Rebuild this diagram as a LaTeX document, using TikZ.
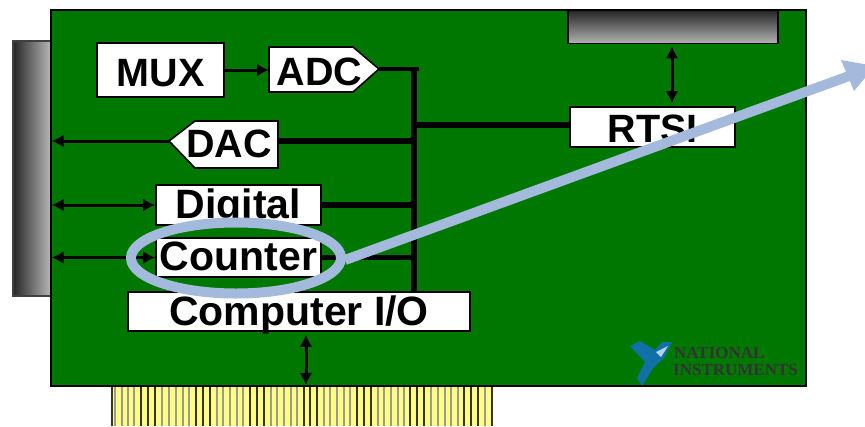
\documentclass[tikz,border=0pt]{standalone}
\usepackage{fontspec}
\setmainfont{Liberation Sans}
\newfontfamily\logofont{Liberation Serif}
\definecolor{boardgreen}{HTML}{007800}
\definecolor{callout}{HTML}{A4BADC}
\definecolor{pinyellow}{HTML}{FFFF80}
\definecolor{logoblue}{HTML}{1070A8}
\usetikzlibrary{arrows.meta,calc}
\newcommand{\boxlabel}[2]{\smash{\raisebox{#1bp}{#2}}}
\tikzset{
  x=1bp,y=-1bp,
  every node/.style={text=black},
  caps/.style={font=\bfseries\fontsize{39.5bp}{41bp}\selectfont},
  lower/.style={font=\bfseries\fontsize{41bp}{41bp}\selectfont},
  blockbox/.style={draw=black,line width=1.6bp,fill=white,inner sep=0pt},
  bus/.style={draw=black,line width=5.5bp},
  sig/.style={draw=black,line width=3bp,-{Latex[length=12bp,width=13bp]}},
  sigboth/.style={draw=black,line width=3bp,{Latex[length=12bp,width=13bp]}-{Latex[length=12bp,width=13bp]}},
  portpin/.style={draw=black!80,line width=1.3bp},
  softpin/.style={draw=black!40,line width=1.1bp},
  logotext/.style={font=\logofont\fontsize{17bp}{17bp}\selectfont\bfseries,text=black!80,inner sep=0pt,anchor=base west},
}
\begin{document}
\begin{tikzpicture}
\useasboundingbox (0,0) rectangle (865,426);
\clip (0,0) rectangle (865,426);
% edge connector
\fill[pinyellow] (111,386) rectangle (492,426);
\foreach \px in {115,122,128,134,162,169,176,183,189,217,223,230,237,243,271,277,284,291,297,324,330,337,344,350,378,384,391,398,404,431,438,445,451,458,485}{
  \draw[softpin] (\px,386) -- (\px,426);
}
\foreach \px in {112,141,148,155,196,203,210,250,257,264,304,310,317,357,364,371,410,417,424,464,471,478,492}{
  \draw[portpin] (\px,386) -- (\px,426);
}
% side and top connectors
\node[draw=black!75,line width=1.4bp,minimum width=38bp,minimum height=255bp,inner sep=0pt,left color=black!85,right color=black!28] (sideport) at (32,168.5) {};
% board
\node[draw=black,line width=1.8bp,fill=boardgreen,minimum width=755bp,minimum height=376bp,inner sep=0pt] (board) at (428.5,198) {};
\node[draw=black,line width=1.6bp,minimum width=210bp,minimum height=33bp,inner sep=0pt,top color=black!85,bottom color=black!30] (topport) at (673,27) {};
% bus
\coordinate (bustop) at (414,69);
\coordinate (busbottom) at (414,292);
\coordinate (rtsitie) at (414,125);
\draw[bus] ($(bustop)+(0,-2)$) -- (busbottom);
% blocks
\node[blockbox,caps,minimum width=127bp,minimum height=54bp] (mux) at (160.5,70) {\boxlabel{-16}{MUX}};
\draw[blockbox] (269,47) coordinate (adcw) -- (353,47) -- (379,69) coordinate (adctip) -- (353,92) -- (269,92) -- cycle;
\node[caps,inner sep=0pt,anchor=base] (adc) at (319.5,85) {ADC};
\draw[blockbox] (169,141) coordinate (dactip) -- (195,121) -- (278,121) coordinate (dacne) -- (278,168) -- (195,168) -- cycle;
\node[caps,inner sep=0pt,anchor=base] (dac) at (229,157) {DAC};
\node[blockbox,lower,minimum width=165bp,minimum height=40bp] (digital) at (238.5,205) {\boxlabel{-13}{Digital}};
\node[blockbox,lower,minimum width=165bp,minimum height=39bp] (counter) at (238.5,257.5) {\boxlabel{-12.5}{Counter}};
\node[blockbox,lower,minimum width=342bp,minimum height=39bp] (cio) at (299,311.5) {\boxlabel{-13.5}{Computer I/O}};
\node[blockbox,caps,minimum width=165bp,minimum height=40bp] (rtsi) at (652.5,127) {\boxlabel{-15}{RTSI}};
% connectors
\draw[sig] (mux.east) -- (adcw |- mux.east);
\draw[draw=black,line width=4.5bp] (adctip) -- ($(bustop)+(5,0)$);
\draw[bus] (rtsitie) -- (rtsitie -| rtsi.west);
\draw[bus] (bustop |- dactip) -- (dacne |- dactip);
\draw[bus] (bustop |- digital.east) -- (digital.east);
\draw[bus] (bustop |- counter.east) -- (counter.east);
\draw[sig] (dactip) -- (sideport.east |- dactip);
\draw[sigboth] (sideport.east |- digital.west) -- (digital.west);
\draw[sigboth] (sideport.east |- counter.west) -- (counter.west);
\coordinate (rtsitap) at (672,0);
\coordinate (ciotap) at (306,0);
\draw[sigboth] ($(rtsitap |- topport.south)+(0,2)$) -- ($(rtsitap |- rtsi.north)+(0,-3)$);
\draw[sigboth] ($(ciotap |- cio.south)+(0,3)$) -- ($(ciotap |- board.south)+(0,-2)$);
% logo
\fill[logoblue] (630,346) -- (640,341) -- (655,350) -- (662,342) -- (672,342) -- (664,358) -- (653,368) -- (642,386) -- (637,378) -- (645,362) -- cycle;
\fill[white!70!logoblue] (656,352) -- (668,346) -- (661,357) -- cycle;
\node[logotext] (logoa) at (674,358) {NATIONAL};
\node[logotext] (logob) at (673,375) {INSTRUMENTS};
% call-out
\draw[draw=callout,line width=10bp] (236,258) ellipse [x radius=105,y radius=35.5];
\coordinate (shaftstart) at (345,260);
\coordinate (shaftend) at (849,76);
\draw[draw=callout,line width=10bp] (shaftstart) -- (shaftend);
\fill[callout] (841,60) -- (875,66) -- (854,91) -- cycle;
\end{tikzpicture}
\end{document}
